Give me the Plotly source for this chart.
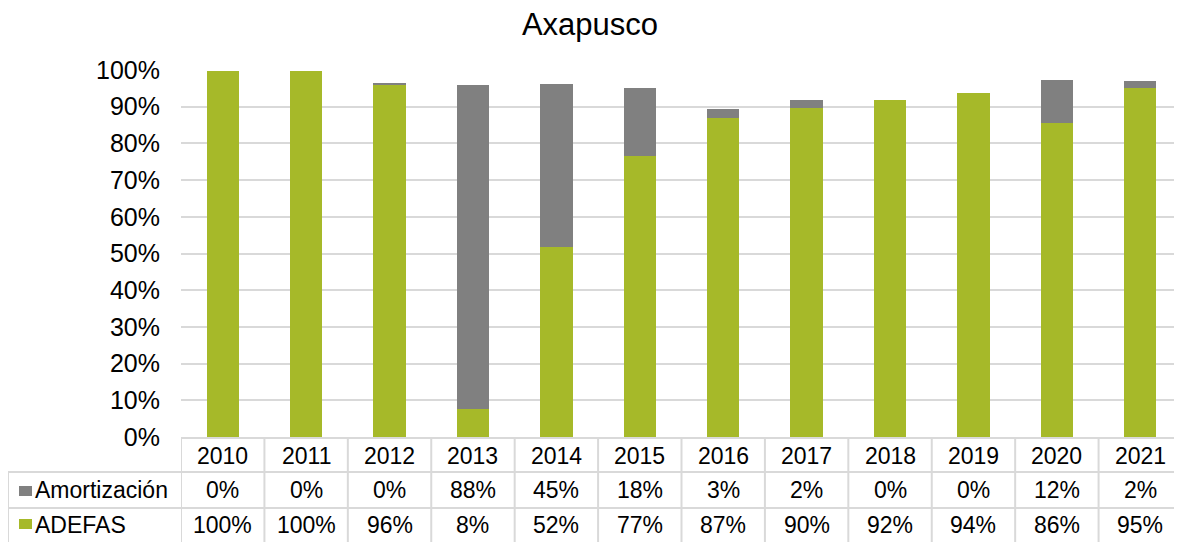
import plotly.graph_objects as go

# chart data (bar values, in %)
years = ["2010", "2011", "2012", "2013", "2014", "2015",
         "2016", "2017", "2018", "2019", "2020", "2021"]
adefas = [99.6, 99.8, 96.0, 7.6, 51.7, 76.6, 86.8, 89.6, 91.7, 93.8, 85.6, 95.0]
amortizacion = [0.0, 0.0, 0.4, 88.4, 44.6, 18.4, 2.7, 2.2, 0.0, 0.0, 11.6, 2.1]
y_ticks = [0, 10, 20, 30, 40, 50, 60, 70, 80, 90, 100]

GREEN = "#A6B929"
GRAY = "#808080"
LINE = "#D9D9D9"
FONT = "Liberation Sans, Arial, sans-serif"

# the page body has an 8px margin, so the figure is drawn 8px smaller
OFF = 8
W, H = 1182 - OFF, 542 - OFF
ML, MR, MT, MB = 181 - OFF, 0, 70 - OFF, 105


def py(y):
    """screen pixel row -> paper y"""
    return (H - MB - (y - OFF)) / (H - MT - MB)


def px(x):
    """screen pixel column -> paper x"""
    return ((x - OFF) - ML) / (W - ML - MR)


fig = go.Figure()
fig.add_trace(go.Bar(x=list(range(len(years))), y=[v / 100 for v in adefas],
                     name="ADEFAS", marker=dict(color=GREEN, line=dict(width=0))))
fig.add_trace(go.Bar(x=list(range(len(years))), y=[v / 100 for v in amortizacion],
                     name="Amortización", marker=dict(color=GRAY, line=dict(width=0))))

# data table under the plot
row_top, row1, row2, row_bot = 438, 472, 508, 542
shapes = []
n = len(years)
for i in range(n + 1):
    shapes.append(dict(type="line", xref="x", yref="paper", x0=i - 0.5, x1=i - 0.5,
                       y0=py(row_top), y1=py(row_bot), line=dict(color=LINE, width=2)))
shapes.append(dict(type="line", xref="x", yref="paper", x0=-0.5, x1=n - 0.5,
                   y0=py(row_top), y1=py(row_top), line=dict(color=LINE, width=2)))
for yy in (row1, row2):
    shapes.append(dict(type="line", xref="paper", yref="paper", x0=px(8), x1=1,
                       y0=py(yy), y1=py(yy), line=dict(color=LINE, width=2)))
shapes.append(dict(type="line", xref="paper", yref="paper", x0=px(8), x1=px(8),
                   y0=py(row1), y1=py(row_bot), line=dict(color=LINE, width=2)))
# legend keys in the table
for color, (ya, yb) in ((GRAY, (486, 496)), (GREEN, (519, 529))):
    shapes.append(dict(type="rect", xref="paper", yref="paper", x0=px(19), x1=px(32),
                       y0=py(yb), y1=py(ya), fillcolor=color, line=dict(width=0)))

ann = []
tf = dict(family=FONT, size=23, color="#000000")
for i, yr in enumerate(years):
    ann.append(dict(x=i, y=py(456), xref="x", yref="paper", text=yr,
                    showarrow=False, font=tf, yanchor="middle"))
    ann.append(dict(x=i, y=py(490), xref="x", yref="paper",
                    text=f"{round(amortizacion[i])}%", showarrow=False, font=tf,
                    yanchor="middle"))
    ann.append(dict(x=i, y=py(525), xref="x", yref="paper",
                    text=f"{round(adefas[i])}%", showarrow=False, font=tf,
                    yanchor="middle"))
ann.append(dict(x=px(33), y=py(490), xref="paper", yref="paper", text="Amortización",
                showarrow=False, font=tf, xanchor="left", yanchor="middle"))
ann.append(dict(x=px(33), y=py(525), xref="paper", yref="paper", text="ADEFAS",
                showarrow=False, font=tf, xanchor="left", yanchor="middle"))

fig.update_layout(
    width=W, height=H,
    margin=dict(l=ML, r=MR, t=MT, b=MB),
    barmode="stack",
    bargap=0.613,
    showlegend=False,
    paper_bgcolor="white",
    plot_bgcolor="white",
    title=dict(text="Axapusco", x=(590 - OFF) / W, xanchor="center",
               y=1 - (24 - OFF) / H, yanchor="middle",
               font=dict(family=FONT, size=31, color="#000000")),
    xaxis=dict(range=[-0.5, n - 0.5], showticklabels=False, showgrid=False,
               zeroline=False, showline=False, fixedrange=True),
    yaxis=dict(range=[0, 1], tickvals=[t / 100 for t in y_ticks],
               ticktext=[f"{t}%" for t in y_ticks], showgrid=True, gridcolor=LINE,
               gridwidth=2, zeroline=False, showline=False, ticks="",
               ticklabelstandoff=20, tickfont=dict(family=FONT, size=25, color="#000000")),
    shapes=shapes,
    annotations=ann,
)

fig.write_html("out.html")
